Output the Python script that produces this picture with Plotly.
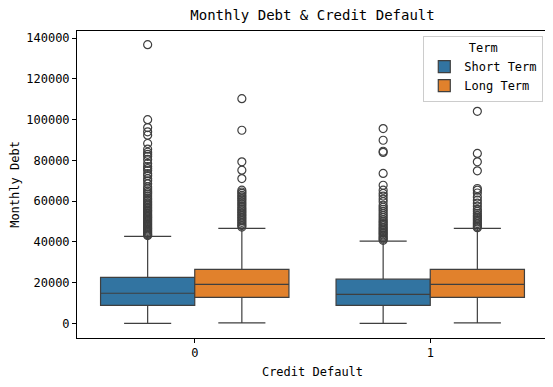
import plotly.graph_objects as go

categories = [0, 1]
terms = ["Short Term", "Long Term"]
colors = ["#3274a1", "#e1812c"]

short_q1 = [8900, 8900]
short_median = [14800, 14300]
short_q3 = [22600, 21700]
short_low = [0, 0]
short_high = [42700, 40400]

long_q1 = [12800, 12800]
long_median = [19200, 19200]
long_q3 = [26500, 26500]
long_low = [300, 300]
long_high = [46600, 46600]

y_ticks = [0, 20000, 40000, 60000, 80000, 100000, 120000, 140000]

short_out_0 = [136800, 100000, 96100, 94000, 92400, 88300, 85500, 84000, 83000, 82000, 80500,
               78500, 77000, 76000, 75000, 73500, 72500, 71000, 70000, 68500, 67000, 66000,
               65000, 64200, 63500, 62500, 61500, 60800, 60000, 59200, 58500, 57800, 57000,
               56300, 55600, 55000, 54300, 53600, 53000, 52400, 51800, 51200, 50600, 50000,
               49400, 48800, 48200, 47600, 47000, 46400, 45800, 45200, 44600, 44000, 43500, 43100]
long_out_0 = [110300, 94800, 79300, 75200, 71100, 65400, 64500, 63800, 62800, 62100, 61200,
              60500, 59500, 58600, 57700, 56800, 56000, 55200, 54400, 53600, 52800, 52000,
              51200, 50400, 49600, 48800, 48000, 47300]
short_out_1 = [95600, 89900, 84500, 83900, 73600, 67800, 65400, 63800, 62500, 61000, 59700,
               58000, 57000, 56000, 55000, 54000, 53000, 52000, 51000, 50200, 49400, 48600,
               47800, 47000, 46300, 45600, 44900, 44200, 43500, 42800, 42100, 41400, 40800]
long_out_1 = [104100, 83400, 79300, 74900, 66200, 65400, 64000, 62000, 60500, 59000, 57500,
              56000, 55000, 54000, 53000, 52200, 51400, 50600, 49800, 49000, 48300, 47600, 47000]

FONT = "DejaVu Sans Mono"
LINE = "#3f3f3f"
BOX_W = 0.4

fig = go.Figure()
stats = [
    (short_q1, short_median, short_q3, short_low, short_high),
    (long_q1, long_median, long_q3, long_low, long_high),
]
outliers = [[short_out_0, short_out_1], [long_out_0, long_out_1]]

for i, term in enumerate(terms):
    q1, med, q3, lo, hi = stats[i]
    fig.add_trace(go.Box(
        x=categories, q1=q1, median=med, q3=q3, lowerfence=lo, upperfence=hi,
        name=term, fillcolor=colors[i], line=dict(color=LINE, width=1.2),
        boxpoints=False, whiskerwidth=0.5, offsetgroup=str(i), legendgroup=term,
        showlegend=True,
    ))

for i, term in enumerate(terms):
    offset = (i - 0.5) * BOX_W
    for c, vals in zip(categories, outliers[i]):
        fig.add_trace(go.Scatter(
            x=[c + offset] * len(vals), y=vals, mode="markers",
            marker=dict(symbol="circle-open", size=8, color=LINE, line=dict(width=1.2)),
            showlegend=False, legendgroup=term, hoverinfo="y",
        ))

# the page body has an 8px default margin, so the figure is sized/offset to compensate
fig.update_layout(
    width=545, height=379,
    margin=dict(l=69, r=5, t=23, b=49),
    paper_bgcolor="white", plot_bgcolor="white",
    boxmode="group", boxgap=0.2, boxgroupgap=0,
    font=dict(family=FONT, size=12, color="black"),
    title=dict(text="Monthly Debt & Credit Default", x=0.5, xref="paper",
               xanchor="center", y=0.981, yanchor="middle",
               font=dict(family=FONT, size=14, color="black")),
    legend=dict(
        title=dict(text="Term", side="top center", font=dict(size=12)),
        x=0.99, y=0.985, xanchor="right", yanchor="top",
        bgcolor="rgba(255,255,255,0.8)", bordercolor="#cccccc", borderwidth=1,
        font=dict(size=12), tracegroupgap=0, itemwidth=30,
    ),
    showlegend=True,
)
fig.update_xaxes(
    range=[-0.5, 1.5], tickvals=categories, ticktext=[str(c) for c in categories],
    showline=True, linecolor="black", linewidth=1, mirror=True,
    ticks="outside", ticklen=4, tickcolor="black", showgrid=False, zeroline=False,
    title=dict(text="Credit Default", font=dict(size=12), standoff=8),
    tickfont=dict(size=12), automargin=False,
)
fig.update_yaxes(
    range=[-7150, 143500], tickvals=y_ticks, ticktext=[str(v) for v in y_ticks],
    showline=True, linecolor="black", linewidth=1, mirror=True,
    ticks="outside", ticklen=4, tickcolor="black", showgrid=False, zeroline=False,
    title=dict(text="Monthly Debt", font=dict(size=12), standoff=6),
    tickfont=dict(size=12), automargin=False,
)

fig.write_html("out.html")
